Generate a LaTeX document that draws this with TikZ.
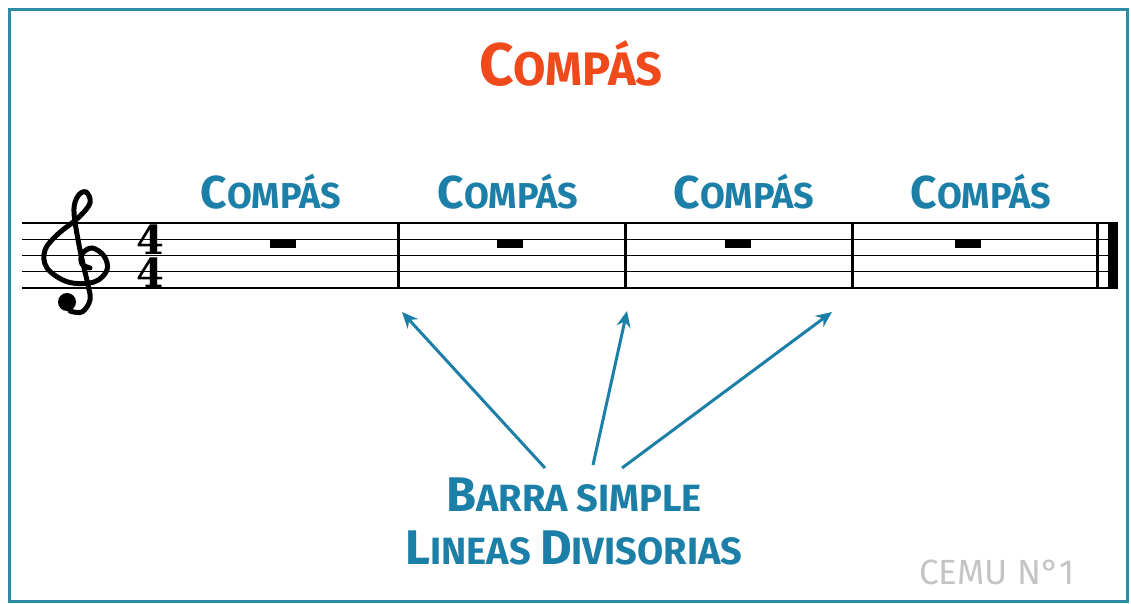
\documentclass[tikz,border=0pt]{standalone}
\usepackage{fontspec}
\usepackage{graphicx}
\newfontfamily\labelfont{Fira Sans}
\newfontfamily\sigfont{DejaVu Serif}
\usetikzlibrary{arrows.meta, positioning}
\definecolor{frameblue}{HTML}{2D8BA6}
\definecolor{labelblue}{HTML}{1B7FA8}
\definecolor{titlered}{HTML}{F04A1C}
\definecolor{stampgray}{HTML}{C4C4C4}
\newcommand{\initcap}[1]{\scalebox{1.28}{#1}}

\begin{document}
\begin{tikzpicture}[
  x=1pt, y=-1pt,
  staffline/.style={line width=1.4pt},
  barline/.style={line width=3pt},
  rest/.style={fill=black, minimum width=26pt, minimum height=8pt, inner sep=0pt, anchor=north},
  compas/.style={text=labelblue, font=\labelfont\bfseries\fontsize{36}{36}\selectfont},
  timesig/.style={font=\sigfont\bfseries\fontsize{40}{33}\selectfont, inner sep=0pt, align=center},
  arrow/.style={-{Stealth[length=16pt, width=14pt]}, line width=3pt, draw=labelblue}
]
\useasboundingbox (0,0) rectangle (1131,604);
\draw[frameblue, line width=3pt] (9.5,9.5) rectangle (1127.5,601.5);

% Staff
\foreach \i in {0,...,4}
  \draw[staffline] (22,{223+16.25*\i}) -- (1118,{223+16.25*\i});
\foreach \x in {398,625,852}
  \draw[barline] (\x,222) -- (\x,289);
\draw[barline] (1097,222) -- (1097,289);
\fill (1108,222) rectangle (1118,289);

% Clef and time signature
\draw[line width=5pt, line cap=round] plot[smooth, tension=0.6] coordinates {
  (90,268) (82,264) (82,254) (92,248) (104,256) (107,270) (94,282) (68,282)
  (47,268) (45,250) (58,234) (78,218) (90,203) (86,192) (78,196) (74,212)
  (80,250) (88,285) (90,300) (82,312) (70,311)};
\fill (67,302) circle (9);
\node[timesig, anchor=base] (meter) at (150,287.5) {4\\4};

% Rests
\node[rest] (r1) at (283,240) {};
\node[rest] (r2) at (510,240) {};
\node[rest] (r3) at (738,240) {};
\node[rest] (r4) at (968,240) {};

% Nodes
\node[compas, text=titlered, font=\labelfont\bfseries\fontsize{47}{47}\selectfont] (title) at (571,64) {\initcap{C}OMPÁS};
\node[compas] (c1) at (271,192) {\initcap{C}OMPÁS};
\node[compas] (c2) at (508,192) {\initcap{C}OMPÁS};
\node[compas] (c3) at (744,192) {\initcap{C}OMPÁS};
\node[compas] (c4) at (981,192) {\initcap{C}OMPÁS};

\node[compas, font=\labelfont\bfseries\fontsize{38}{38}\selectfont] (barra) at (574,495) {\initcap{B}ARRA SIMPLE};
\node[compas, font=\labelfont\bfseries\fontsize{38}{38}\selectfont, below=12pt of barra] (lineas) {\initcap{L}INEAS \initcap{D}IVISORIAS};
\node[text=stampgray, font=\labelfont\fontsize{35}{35}\selectfont] (cemu) at (997,572) {CEMU N°1};

% Arrows
\coordinate (s1) at (545,468);
\coordinate (s2) at (593,465);
\coordinate (s3) at (622,468);
\coordinate (b1) at (402,312);
\coordinate (b2) at (627,311);
\coordinate (b3) at (832,312);
\draw [arrow] (s1) -- (b1);
\draw [arrow] (s2) -- (b2);
\draw [arrow] (s3) -- (b3);

\end{tikzpicture}
\end{document}
